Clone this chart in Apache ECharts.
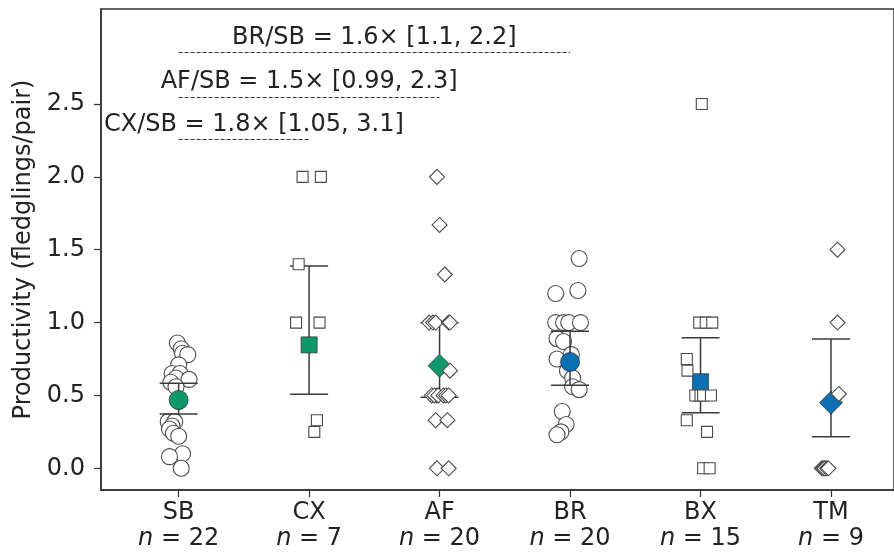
<!DOCTYPE html>
<html>
<head>
<meta charset="utf-8">
<script src="https://cdn.jsdelivr.net/npm/echarts@6/dist/echarts.min.js"></script>
<style>
html,body{margin:0;padding:0;background:#fff;}
#chart{width:894px;height:553px;}
</style>
</head>
<body>
<div id="chart"></div>
<script>
// ---- data ----
const categories = ['SB', 'CX', 'AF', 'BR', 'BX', 'TM'];
const sampleSizes = [22, 7, 20, 20, 15, 9];
const groupMeans = [0.469, 0.847, 0.704, 0.73, 0.594, 0.45];
const ciLow = [0.373, 0.508, 0.487, 0.57, 0.382, 0.217];
const ciHigh = [0.583, 1.388, 0.999, 0.94, 0.896, 0.887];

const sbValues = [0.86, 0.82, 0.79, 0.78, 0.71, 0.65, 0.65, 0.62, 0.61, 0.59, 0.56, 0.47, 0.46, 0.32, 0.32, 0.29, 0.27, 0.24, 0.22, 0.10, 0.08, 0.00];
const sbJitter = [-0.01, 0.02, 0.03, 0.07, 0.00, -0.05, 0.01, -0.02, 0.08, -0.06, -0.02, 0.00, 0.00, -0.08, -0.03, -0.05, -0.07, -0.04, 0.00, 0.03, -0.07, 0.02];

const cxValues = [2.0, 2.0, 1.4, 1.0, 1.0, 0.33, 0.25];
const cxJitter = [-0.05, 0.09, -0.08, -0.10, 0.08, 0.06, 0.04];

const afValues = [2.0, 1.67, 1.33, 1.0, 1.0, 1.0, 1.0, 1.0, 0.5, 0.67, 0.5, 0.5, 0.5, 0.5, 0.5, 0.5, 0.33, 0.33, 0.0, 0.0];
const afJitter = [-0.02, 0.00, 0.04, -0.08, -0.05, -0.03, 0.07, 0.08, -0.02, 0.08, -0.06, -0.04, -0.01, 0.03, 0.05, 0.07, -0.03, 0.06, -0.02, 0.07];

const brValues = [1.44, 1.20, 1.22, 1.0, 1.0, 1.0, 1.0, 0.89, 0.87, 0.78, 0.75, 0.73, 0.67, 0.62, 0.56, 0.54, 0.39, 0.30, 0.25, 0.23];
const brJitter = [0.07, -0.11, 0.06, -0.11, -0.05, -0.01, 0.08, -0.10, -0.05, 0.01, -0.10, 0.00, -0.02, 0.02, 0.02, 0.07, -0.06, -0.03, -0.07, -0.10];

const bxValues = [2.5, 1.0, 1.0, 1.0, 0.75, 0.67, 0.5, 0.5, 0.5, 0.5, 0.5, 0.33, 0.25, 0.0, 0.0];
const bxJitter = [0.01, -0.01, 0.04, 0.09, -0.105, -0.10, -0.02, -0.04, 0.00, 0.02, 0.08, -0.105, 0.05, 0.02, 0.07];

const tmValues = [1.5, 1.0, 0.51, 0.0, 0.0, 0.0, 0.0, 0.0, 0.0];
const tmJitter = [0.05, 0.05, 0.06, -0.04, -0.07, -0.06, -0.05, -0.03, -0.02];

const ratioLabels = ['BR/SB = 1.6× [1.1, 2.2]', 'AF/SB = 1.5× [0.99, 2.3]', 'CX/SB = 1.8× [1.05, 3.1]'];
const ratioPairs = [[0, 3], [0, 2], [0, 1]];

const yTicks = [0, 0.5, 1.0, 1.5, 2.0, 2.5];
const xTicks = [0, 1, 2, 3, 4, 5];

// ---- build ----
function pts(ci, vals, jit) {
  return vals.map((v, i) => [ci + jit[i], v]);
}
const FONT = 'DejaVu Sans';
const TXT = '#222';
const AX = '#333';
const GREEN = '#10976c';
const BLUE = '#0b6fb3';

const hollowStyle = { color: '#fff', borderColor: '#4a4a4a', borderWidth: 1.1, opacity: 1 };
const meanColors = [GREEN, GREEN, GREEN, BLUE, BLUE, BLUE];
const meanShapes = ['circle', 'rect', 'diamond', 'circle', 'rect', 'diamond'];
const meanSizes = { circle: 19, rect: 16, diamond: 23 };

const errData = categories.map((c, i) => [i, ciLow[i], ciHigh[i]]);
const meanData = categories.map((c, i) => ({
  value: [i, groupMeans[i]],
  symbol: meanShapes[i],
  symbolSize: meanSizes[meanShapes[i]],
  itemStyle: { color: meanColors[i], borderColor: '#2a2a2a', borderWidth: 0.7, opacity: 1 }
}));

const annotLevels = [2.855, 2.549, 2.257];
const annotOffsets = [0, 0, 10];
const markLines = ratioLabels.map((t, k) => [
  { coord: [ratioPairs[k][0], annotLevels[k]],
    label: { formatter: t, offset: [annotOffsets[k], 0] } },
  { coord: [ratioPairs[k][1], annotLevels[k]] }
]);

const chart = echarts.init(document.getElementById('chart'), null, { renderer: 'canvas' });
chart.setOption({
  animation: false,
  backgroundColor: '#fff',
  textStyle: { fontFamily: FONT },
  grid: { left: 101, right: 0, top: 9, bottom: 63, show: true, borderColor: AX, borderWidth: 1.5, backgroundColor: 'transparent' },
  xAxis: {
    type: 'value', min: -0.595, max: 5.483,
    splitLine: { show: false },
    axisLine: { show: true, onZero: false, lineStyle: { color: AX, width: 1.5 } },
    axisTick: { show: true, customValues: xTicks, length: 7, lineStyle: { color: AX, width: 1.2 } },
    axisLabel: {
      customValues: xTicks, margin: 10, color: TXT, fontSize: 24, lineHeight: 26, fontFamily: FONT,
      formatter: v => categories[v] + '\n{i|n} = ' + sampleSizes[v],
      rich: { i: { fontStyle: 'italic', fontSize: 24, lineHeight: 26, fontFamily: FONT, color: TXT } }
    }
  },
  yAxis: {
    type: 'value', min: -0.149, max: 3.152,
    splitLine: { show: false },
    axisLine: { show: true, onZero: false, lineStyle: { color: AX, width: 1.5 } },
    axisTick: { show: true, customValues: yTicks, length: 7, lineStyle: { color: AX, width: 1.2 } },
    axisLabel: { customValues: yTicks, margin: 16, color: TXT, fontSize: 24, fontFamily: FONT, formatter: v => v.toFixed(1) },
    name: 'Productivity (fledglings/pair)',
    nameLocation: 'middle', nameGap: 61,
    nameTextStyle: { fontSize: 24, color: TXT, fontFamily: FONT }
  },
  series: [
    { type: 'scatter', name: 'SB', z: 2, symbol: 'circle', symbolSize: 16, itemStyle: hollowStyle, data: pts(0, sbValues, sbJitter) },
    { type: 'scatter', name: 'BR', z: 2, symbol: 'circle', symbolSize: 16, itemStyle: hollowStyle, data: pts(3, brValues, brJitter) },
    {
      type: 'custom', name: 'ci', z: 3,
      renderItem: function (params, api) {
        const x = api.value(0);
        const pHi = api.coord([x, api.value(2)]);
        const pLo = api.coord([x, api.value(1)]);
        const st = { stroke: '#3a3a3a', lineWidth: 1.5 };
        const w = 19;
        return { type: 'group', children: [
          { type: 'line', shape: { x1: pHi[0], y1: pHi[1], x2: pLo[0], y2: pLo[1] }, style: st },
          { type: 'line', shape: { x1: pHi[0] - w, y1: pHi[1], x2: pHi[0] + w, y2: pHi[1] }, style: st },
          { type: 'line', shape: { x1: pLo[0] - w, y1: pLo[1], x2: pLo[0] + w, y2: pLo[1] }, style: st }
        ] };
      },
      data: errData
    },
    { type: 'scatter', name: 'means', z: 4, data: meanData },
    { type: 'scatter', name: 'CX', z: 5, symbol: 'rect', symbolSize: 11, itemStyle: hollowStyle, data: pts(1, cxValues, cxJitter) },
    { type: 'scatter', name: 'BX', z: 5, symbol: 'rect', symbolSize: 11, itemStyle: hollowStyle, data: pts(4, bxValues, bxJitter) },
    { type: 'scatter', name: 'AF', z: 5, symbol: 'diamond', symbolSize: 15, itemStyle: hollowStyle, data: pts(2, afValues, afJitter) },
    { type: 'scatter', name: 'TM', z: 5, symbol: 'diamond', symbolSize: 15, itemStyle: hollowStyle, data: pts(5, tmValues, tmJitter) },
    {
      type: 'line', name: 'ratios', data: [], z: 6,
      markLine: {
        silent: true, symbol: 'none', animation: false,
        lineStyle: { color: '#333', width: 1, type: [4, 2] },
        label: { show: true, position: 'middle', distance: 3, fontSize: 24, color: TXT, fontFamily: FONT },
        emphasis: { disabled: true },
        data: markLines
      }
    }
  ]
});
</script>
</body>
</html>
